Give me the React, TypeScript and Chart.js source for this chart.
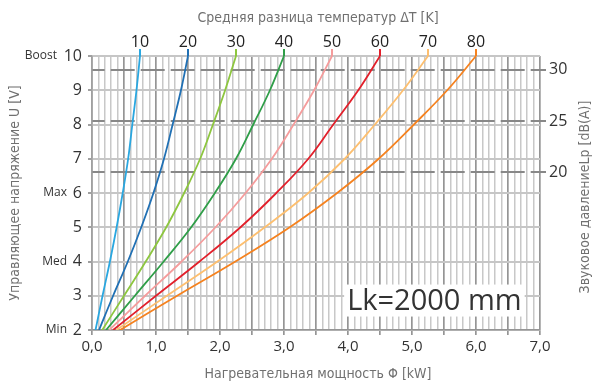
import React, { useEffect, useRef } from "react";
import { Chart, registerables } from "chart.js";

Chart.register(...registerables);

// Control voltage U [V] (y values shared by all curves)
const voltages = [2, 3, 4, 5, 6, 7, 8, 9, 10];
// Mean temperature difference ΔT [K] (one curve each)
const deltaT = [10, 20, 30, 40, 50, 60, 70, 80];
// Heating power Φ [kW] read at each voltage, per ΔT
const power10 = [0.055, 0.165, 0.28, 0.385, 0.48, 0.565, 0.63, 0.695, 0.75];
const power20 = [0.11, 0.33, 0.56, 0.77, 0.96, 1.125, 1.26, 1.39, 1.5];
const power30 = [0.16, 0.5, 0.84, 1.16, 1.44, 1.69, 1.89, 2.08, 2.25];
const power40 = [0.22, 0.67, 1.12, 1.55, 1.92, 2.25, 2.52, 2.78, 3.0];
const power50 = [0.27, 0.83, 1.4, 1.93, 2.4, 2.81, 3.15, 3.47, 3.75];
const power60 = [0.33, 1.0, 1.68, 2.32, 2.88, 3.38, 3.77, 4.16, 4.5];
const power70 = [0.38, 1.17, 1.96, 2.7, 3.38, 3.95, 4.42, 4.86, 5.25];
const power80 = [0.44, 1.33, 2.24, 3.09, 3.83, 4.48, 5.03, 5.55, 6.0];
const powerSeries = [power10, power20, power30, power40, power50, power60, power70, power80];
const seriesColors = ["#2aa7e0", "#2070b4", "#8dc63f", "#2f9e48", "#f59c9c", "#e2202b", "#fdbf6f", "#f5821f"];

// Axis ticks
const powerTicks = [0, 1, 2, 3, 4, 5, 6, 7];
const powerGridStep = 0.1;
const voltageTicks = [2, 3, 4, 5, 6, 7, 8, 9, 10];
const voltageNames: Record<number, string> = { 10: "Boost", 6: "Max", 4: "Med", 2: "Min" };
const soundTicks = [20, 25, 30];
const soundMin = 4.67;
const soundMax = 31.33;

const titleTop = "Средняя разница температур ΔT [K]";
const titleBottom = "Нагревательная мощность Φ [kW]";
const titleLeft = "Управляющее напряжение U [V]";
const titleRight = "Звуковое давлениеLp [dB(A)]";
const noteText = "Lk=2000 mm";

const TITLE_FONT = '14px "DejaVu Sans Condensed", "Liberation Sans Narrow", sans-serif';
const NUM_FONT_FAMILY = '"Open Sans", "Liberation Sans", sans-serif';

const isMajor = (v: number) => Math.round(v * 10) % 5 === 0;

export default function App() {
  const ref = useRef<HTMLCanvasElement | null>(null);

  useEffect(() => {
    if (!ref.current) return;

    const decor = {
      id: "decor",
      afterDraw(chart: any) {
        const ctx = chart.ctx;
        const area = chart.chartArea;
        const xs = chart.scales.x;
        const ys = chart.scales.y;
        ctx.save();
        // short vertical stubs above the plot at each curve end
        chart.data.datasets.forEach((ds: any) => {
          const last = ds.data[ds.data.length - 1];
          const px = xs.getPixelForValue(last.x);
          ctx.strokeStyle = ds.borderColor;
          ctx.lineWidth = 2;
          ctx.beginPath();
          ctx.moveTo(px, area.top);
          ctx.lineTo(px, area.top - 7);
          ctx.stroke();
        });
        // voltage names
        ctx.fillStyle = "#333";
        ctx.font = '12px ' + NUM_FONT_FAMILY;
        ctx.textAlign = "right";
        ctx.textBaseline = "middle";
        Object.keys(voltageNames).forEach((k) => {
          const v = Number(k);
          const py = ys.getPixelForValue(v);
          ctx.fillText(voltageNames[v], v === 10 ? 57 : 67, py);
        });
        // titles
        ctx.fillStyle = "#707070";
        ctx.font = TITLE_FONT;
        ctx.textAlign = "center";
        ctx.textBaseline = "middle";
        ctx.fillText(titleTop, 318, 18);
        ctx.fillText(titleBottom, 318, 374);
        ctx.save();
        ctx.translate(15, 193);
        ctx.rotate(-Math.PI / 2);
        ctx.fillText(titleLeft, 0, 0);
        ctx.restore();
        ctx.save();
        ctx.translate(585, 197);
        ctx.rotate(-Math.PI / 2);
        ctx.fillText(titleRight, 0, 0);
        ctx.restore();
        // Lk note box
        const cx = xs.getPixelForValue(5.35);
        const cy = ys.getPixelForValue(2.86);
        ctx.font = '29px ' + NUM_FONT_FAMILY;
        const w = ctx.measureText(noteText).width;
        ctx.fillStyle = "#ffffff";
        ctx.fillRect(cx - w / 2 - 3, cy - 16, w + 6, 32);
        ctx.fillStyle = "#333";
        ctx.textAlign = "center";
        ctx.textBaseline = "middle";
        ctx.fillText(noteText, cx, cy + 1);
        ctx.restore();
      },
    };

    const chart = new Chart(ref.current, {
      type: "line",
      data: {
        datasets: powerSeries.map((ser, i) => ({
          label: String(deltaT[i]),
          data: ser.map((p, j) => ({ x: p, y: voltages[j] })),
          borderColor: seriesColors[i],
          backgroundColor: seriesColors[i],
          borderWidth: 1.8,
          pointRadius: 0,
          tension: 0.4,
          xAxisID: "x",
          yAxisID: "y",
        })),
      },
      options: {
        responsive: false,
        animation: false,
        layout: { padding: 0 },
        plugins: { legend: { display: false }, tooltip: { enabled: false } },
        scales: {
          x: {
            type: "linear",
            position: "bottom",
            min: powerTicks[0],
            max: powerTicks[powerTicks.length - 1],
            afterBuildTicks: (s: any) => {
              const n = Math.round((powerTicks[powerTicks.length - 1] - powerTicks[0]) / powerGridStep);
              s.ticks = Array.from({ length: n + 1 }, (_, i) => ({ value: Math.round((powerTicks[0] + i * powerGridStep) * 10) / 10 }));
            },
            afterFit: (s: any) => { s.height = 53; },
            ticks: {
              autoSkip: false,
              maxRotation: 0,
              minRotation: 0,
              padding: 3,
              color: "#333",
              font: { size: 15, family: NUM_FONT_FAMILY },
              callback: (v: any) => (powerTicks.includes(Number(v)) ? Number(v).toFixed(1).replace(".", ",") : ""),
            },
            grid: {
              color: (c: any) => (isMajor(c.tick.value) ? "#959595" : "#c8c8c8"),
              lineWidth: (c: any) => (isMajor(c.tick.value) ? 1.7 : 1.5),
              tickLength: 5,
              tickColor: (c: any) => (isMajor(c.tick.value) ? "#959595" : "rgba(0,0,0,0)"),
            },
            border: { color: "#959595", width: 1.5 },
          },
          x2: {
            type: "linear",
            position: "top",
            min: powerTicks[0],
            max: powerTicks[powerTicks.length - 1],
            afterBuildTicks: (s: any) => {
              s.ticks = powerSeries.map((ser) => ({ value: ser[ser.length - 1] }));
            },
            afterFit: (s: any) => { s.height = 56; },
            ticks: {
              autoSkip: false,
              maxRotation: 0,
              minRotation: 0,
              padding: 4,
              color: "#222",
              font: { size: 16, family: NUM_FONT_FAMILY },
              callback: (_v: any, i: number) => String(deltaT[i]),
            },
            grid: { display: false, drawTicks: false },
            border: { display: false },
          },
          y: {
            type: "linear",
            position: "left",
            min: voltageTicks[0],
            max: voltageTicks[voltageTicks.length - 1],
            afterBuildTicks: (s: any) => { s.ticks = voltageTicks.map((v) => ({ value: v })); },
            afterFit: (s: any) => { s.width = 92; },
            ticks: {
              padding: 6,
              color: "#333",
              font: { size: 16, family: NUM_FONT_FAMILY },
            },
            grid: { color: "#c6c6c6", lineWidth: 2, tickLength: 4, tickColor: "#a0a0a0" },
            border: { color: "#a0a0a0", width: 1.5 },
          },
          y2: {
            type: "linear",
            position: "right",
            min: soundMin,
            max: soundMax,
            afterBuildTicks: (s: any) => { s.ticks = soundTicks.map((v) => ({ value: v })); },
            afterFit: (s: any) => { s.width = 53; },
            ticks: {
              padding: 3,
              color: "#333",
              font: { size: 16, family: NUM_FONT_FAMILY },
            },
            grid: { color: "#888888", lineWidth: 2, tickLength: 6, tickColor: "#888888", drawOnChartArea: true },
            border: { display: false, dash: [24, 6], dashOffset: 11.3 },
          },
        },
      },
      plugins: [decor],
    } as any);

    return () => chart.destroy();
  }, []);

  return (
    <div style={{ position: "absolute", left: 0, top: 0, width: 593, height: 383, background: "#fff" }}>
      <canvas ref={ref} width={593} height={383} style={{ display: "block", width: 593, height: 383 }} />
    </div>
  );
}
